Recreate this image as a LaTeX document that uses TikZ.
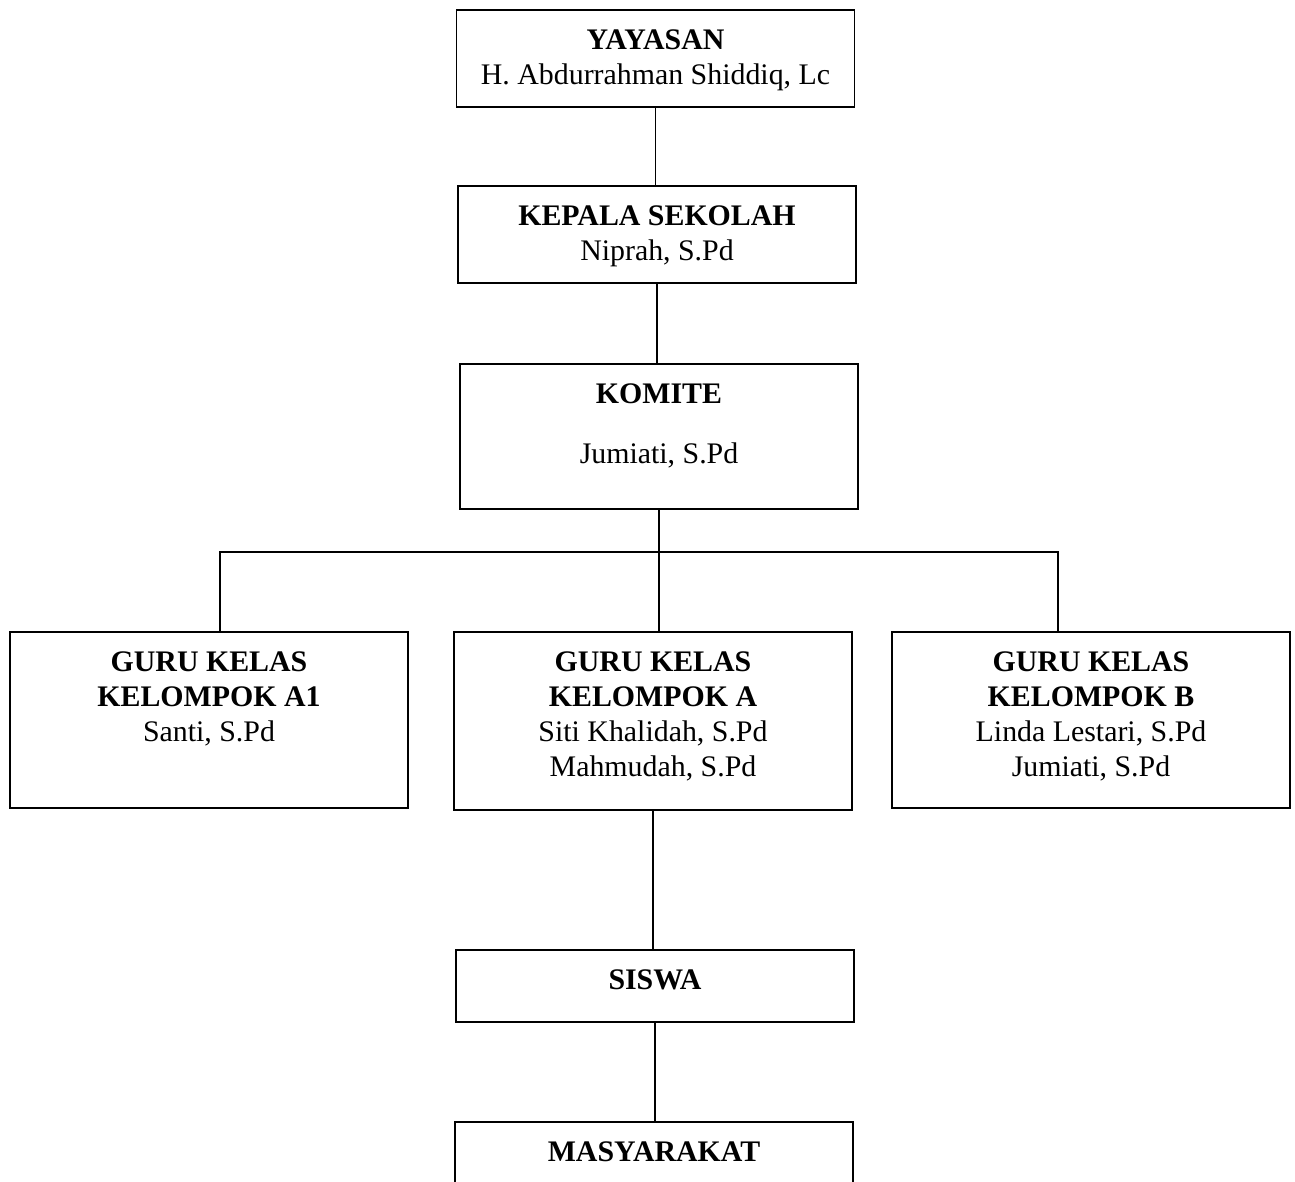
\documentclass[tikz,border=0pt]{standalone}
\usepackage{fontspec}
\setmainfont{Liberation Serif}
\usetikzlibrary{positioning}
\tikzset{
  orgbox/.style={draw, line width=0.8pt, minimum width=7.96cm, inner sep=0pt},
  orgtext/.style={align=center, inner sep=0pt, font=\fontsize{17}{20}\selectfont}
}
\begin{document}
\begin{tikzpicture}[x=0.02cm, y=-0.02cm]
		\useasboundingbox (0,0) rectangle (1295,1182);

		% kotak
		\node[orgbox, minimum height=1.94cm] (yay) at (655.5,58.5) {};
		\node[orgbox, minimum height=1.94cm] (kep) at (657,234.5) {};
		\node[orgbox, minimum height=2.9cm] (kom) at (659,436.5) {};
		\node[orgbox, minimum height=3.52cm] (ga1) at (209,720) {};
		\node[orgbox, minimum height=3.56cm] (ga) at (653,721) {};
		\node[orgbox, minimum height=3.52cm] (gb) at (1091,720) {};
		\node[orgbox, minimum height=1.44cm] (sis) at (655,986) {};
		\node[orgbox, minimum height=2cm] (mas) at (654,1172) {};

		% isi
		\node[orgtext, below=0.4cm of yay.north] (tyay) {\textbf{YAYASAN}\\H. Abdurrahman Shiddiq, Lc};
		\node[orgtext, below=0.4cm of kep.north] (tkep) {\textbf{KEPALA SEKOLAH}\\Niprah, S.Pd};
		\node[orgtext, below=0.4cm of kom.north] (tkom) {\textbf{KOMITE}\\[0.5cm]Jumiati, S.Pd};
		\node[orgtext, below=0.4cm of ga1.north] (tga1) {\textbf{GURU KELAS}\\\textbf{KELOMPOK A1}\\Santi, S.Pd};
		\node[orgtext, below=0.4cm of ga.north] (tga) {\textbf{GURU KELAS}\\\textbf{KELOMPOK A}\\Siti Khalidah, S.Pd\\Mahmudah, S.Pd};
		\node[orgtext, below=0.4cm of gb.north] (tgb) {\textbf{GURU KELAS}\\\textbf{KELOMPOK B}\\Linda Lestari, S.Pd\\Jumiati, S.Pd};
		\node[orgtext, below=0.4cm of sis.north] (tsis) {\textbf{SISWA}};
		\node[orgtext, below=0.4cm of mas.north] (tmas) {\textbf{MASYARAKAT}};

		% garis
		\draw[line width=0.8pt] (yay.south) -- (yay.south |- kep.north);
		\draw[line width=0.8pt] (kep.south) -- (kep.south |- kom.north);
		\coordinate (fork) at (kom.south |- 0,552);
		\draw[line width=0.8pt] (kom.south) -- (kom.south |- ga.north);
		\draw[line width=0.8pt] ([xshift=0.22cm]ga1.north) |- (fork) -| ([xshift=-0.66cm]gb.north);
		\draw[line width=0.8pt] (ga.south) -- (ga.south |- sis.north);
		\draw[line width=0.8pt] (sis.south) -- (sis.south |- mas.north);
	\end{tikzpicture}
\end{document}
